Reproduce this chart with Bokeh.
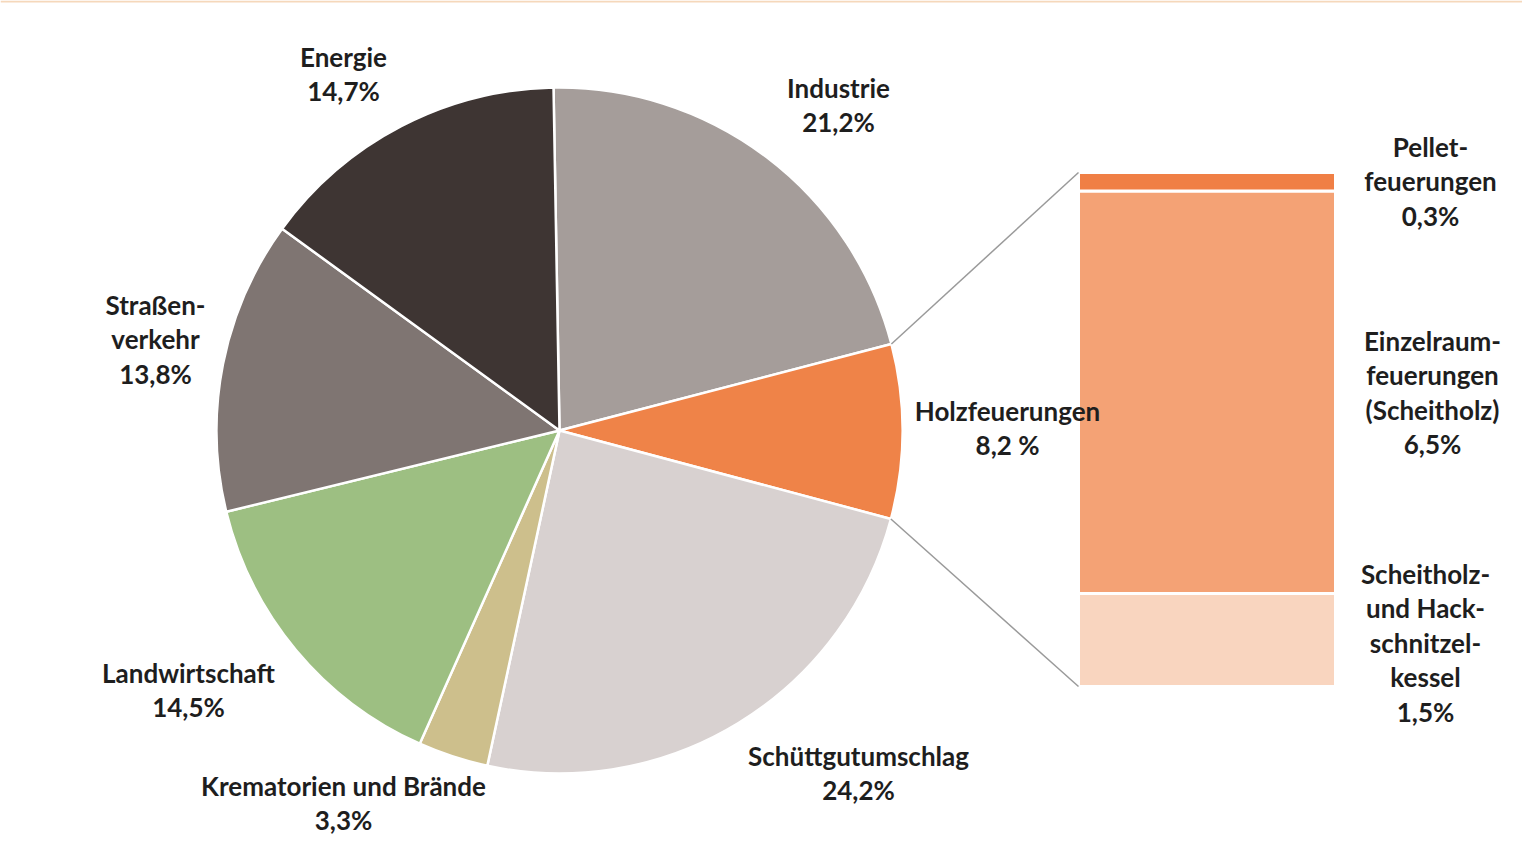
import math
from bokeh.plotting import figure
from bokeh.models import Range1d, ColumnDataSource
from bokeh.core.properties import value
from bokeh.embed import file_html
from bokeh.resources import INLINE

# ---- data ----
pie_names = ["Industrie", "Holzfeuerungen", "Schüttgutumschlag", "Krematorien und Brände",
             "Landwirtschaft", "Straßenverkehr", "Energie"]
pie_values = [21.2, 8.2, 24.2, 3.3, 14.5, 13.8, 14.7]
pie_colors = ["#a59d9a", "#ef8348", "#d8d1d0", "#cdbf8c", "#9dbf82", "#7f7572", "#3e3533"]
pie_label_lines = [["Industrie", "21,2%"], ["Holzfeuerungen", "8,2 %"],
                   ["Schüttgutumschlag", "24,2%"], ["Krematorien und Brände", "3,3%"],
                   ["Landwirtschaft", "14,5%"], ["Straßen-", "verkehr", "13,8%"],
                   ["Energie", "14,7%"]]

bar_names = ["Scheitholz- und Hackschnitzelkessel", "Einzelraumfeuerungen (Scheitholz)", "Pelletfeuerungen"]
bar_values = [1.5, 6.5, 0.3]
bar_colors = ["#f9d5bf", "#f4a275", "#f07f45"]
bar_label_lines = [["Scheitholz-", "und Hack-", "schnitzel-", "kessel", "1,5%"],
                   ["Einzelraum-", "feuerungen", "(Scheitholz)", "6,5%"],
                   ["Pellet-", "feuerungen", "0,3%"]]

# ---- layout (screen-like coordinates: y = 858 - screen_y) ----
W, H = 1522, 842
H0 = 858
CX, CY, R = 559, H0 - 430, 343
START_DEG = 91
BAR_X0, BAR_X1 = 1078, 1335
BAR_BOT, BAR_TOP = H0 - 686, H0 - 172

pie_label_pos = [(838, 87), (1007, 410), (858, 755), (343, 785), (188, 672), (155, 304), (343, 56)]
bar_label_pos = [(1425, 573), (1432, 340), (1430, 146)]
LINE_H = 34.5

FONT = "Lato"
TXT = "#1e1e1e"

YB = H0 - H
p = figure(width=W, height=H, output_backend="svg", toolbar_location=None,
           x_range=Range1d(0, W), y_range=Range1d(YB, H0),
           min_border=0, background_fill_color="white", border_fill_color="white")
p.axis.visible = False
p.grid.visible = False
p.outline_line_color = None

# thin frame line at the top
p.segment(x0=[0], y0=[H0 - 1], x1=[W], y1=[H0 - 1], line_color="#f5d8bb", line_width=2)

# pie
total = sum(pie_values)
cum = 0.0
starts, ends = [], []
for v in pie_values:
    a0 = math.radians(START_DEG - cum / total * 360)
    cum += v
    a1 = math.radians(START_DEG - cum / total * 360)
    starts.append(a1)
    ends.append(a0)
src = ColumnDataSource(dict(start=starts, end=ends, color=pie_colors, name=pie_names))
p.wedge(x=CX, y=CY, radius=R, start_angle="start", end_angle="end", direction="anticlock",
        fill_color="color", line_color="white", line_width=2.5, source=src)

# bar via its own range
scale = (BAR_TOP - BAR_BOT) / sum(bar_values)
ystart = -(BAR_BOT - YB) / scale
yend = sum(bar_values) + (H0 - BAR_TOP) / scale
p.extra_y_ranges = {"bar": Range1d(ystart, yend)}
bottoms, tops = [], []
c = 0.0
for v in bar_values:
    bottoms.append(c)
    c += v
    tops.append(c)
bsrc = ColumnDataSource(dict(x=[(BAR_X0 + BAR_X1) / 2] * 3, bottom=bottoms, top=tops,
                             color=bar_colors, name=bar_names))
p.vbar(x="x", width=BAR_X1 - BAR_X0, bottom="bottom", top="top", fill_color="color",
       line_color="white", line_width=3, source=bsrc, y_range_name="bar")

# connector lines from Holzfeuerungen slice edges to bar corners
a_top = ends[1]
a_bot = starts[1]
p.segment(x0=[CX + R * math.cos(a_top), CX + R * math.cos(a_bot)],
          y0=[CY + R * math.sin(a_top), CY + R * math.sin(a_bot)],
          x1=[BAR_X0, BAR_X0], y1=[BAR_TOP, BAR_BOT], line_color="#9a9a9a", line_width=1.5)

# labels
def draw_label(lines, pos):
    x, sy = pos
    xs = [x] * len(lines)
    ys = [H0 - (sy + i * LINE_H) for i in range(len(lines))]
    p.text(x=xs, y=ys, text=lines, text_font=value(FONT), text_font_style="bold",
           text_font_size="26px", text_color=TXT, text_align="center", text_baseline="middle")

for lines, pos in zip(pie_label_lines, pie_label_pos):
    draw_label(lines, pos)
for lines, pos in zip(bar_label_lines, bar_label_pos):
    draw_label(lines, pos)

open("out.html", "w").write(file_html(p, INLINE))
